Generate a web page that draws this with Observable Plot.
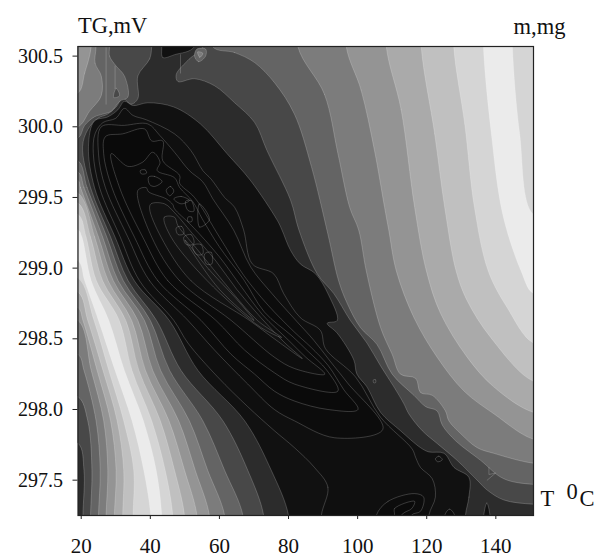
<!DOCTYPE html>
<html><head><meta charset="utf-8">
<script src="https://cdn.jsdelivr.net/npm/d3@7"></script>
<script src="https://cdn.jsdelivr.net/npm/@observablehq/plot@0.6"></script>
<style>html,body{margin:0;padding:0;background:#fff}svg{display:block}svg text{font-family:"Liberation Serif",serif !important;font-variant:normal !important}</style>
</head><body><div id="chart"></div>
<script>
const xTicks=[20,40,60,80,100,120,140];
const yTicks=[297.5,298,298.5,299,299.5,300,300.5];
// Readings along contour lines: [T, TG]
const b1=[[131.2,297.25],[132.2,297.38],[132.2,297.52],[127.9,297.59],[125,297.69],[120.6,297.7],[118.2,297.73],[112.4,297.85],[106.63,297.98],[102.7,298.16],[99.8,298.25],[98.9,298.35],[94.1,298.54],[91.2,298.61],[94.1,298.63],[91.6,298.81],[87.8,298.96],[83.4,299.03],[80.5,299.13],[78.1,299.27],[76.7,299.34],[69,299.62],[62.2,299.81],[54.5,300.02],[46.8,300.14],[39.3,300.17],[35,300.15],[32.5,300.18],[30.6,300.12],[27.7,300.07],[23.8,300.04],[22.1,299.86],[23.85,299.57],[29.8,299.22],[35.4,298.91],[45.5,298.63],[53.8,298.276],[67.3,297.92],[75,297.57],[80,297.25]];
const b1t=[[43.3,300.568],[43.6,300.49],[47,300.51],[52.8,300.568]];
const b1n=[[136.5,297.25],[137.4,297.34],[138.3,297.25]];
const b2a=[[40.4,300.568],[39.8,300.48],[36.4,300.36],[36.4,300.2],[34.5,300.16],[32,300.2],[30.1,300.14],[27.7,300.09],[24.8,300.06],[21.9,299.98],[20.4,299.86],[22.7,299.57],[28.5,299.22],[33.6,298.91],[41.8,298.63],[48.9,298.276],[61,297.92],[68.2,297.57],[72.8,297.25]];
const b2b=[[55.2,300.568],[51.3,300.48],[47.5,300.37],[48,300.32],[52.8,300.34],[58.6,300.29],[64.4,300.17],[70.2,300.03],[73.8,299.83],[80.6,299.48],[83,299.27],[88.3,298.96],[93.1,298.82],[97.9,298.63],[102.7,298.47],[106.6,298.31],[110.5,298.16],[113.4,298.04],[114.8,297.97],[118.7,297.85],[123,297.76],[128.8,297.64],[134.6,297.5],[137.5,297.43],[142.3,297.36],[150.9,297.33]];
const b2c=[[19.07,297.76],[20.8,297.57],[20.5,297.25]];
const b3a=[[28.2,300.568],[28.2,300.5],[30.1,300.43],[32.5,300.36],[33.5,300.21],[31.1,300.18],[28.7,300.11],[26.3,300.09],[23.8,300.07],[21,300.01],[19.07,299.92]];
const b3b=[[19.07,299.76],[21.7,299.57],[27.4,299.22],[32.2,298.91],[40,298.63],[45.6,298.276],[55.2,297.92],[61.5,297.57],[66.8,297.25]];
const b3c=[[19.07,298.09],[21.9,297.92],[23.1,297.57],[22.7,297.25]];
const b3d=[[58,300.568],[64.4,300.525],[70.2,300.454],[76,300.31],[81.7,300.09],[86.6,299.72],[91.4,299.24],[94.5,298.91],[97,298.75],[100.8,298.58],[105.6,298.46],[110,298.25],[116.3,298.1],[119.7,298.02],[123,297.99],[124.5,297.89],[128.3,297.78],[135.6,297.64],[142.3,297.51],[150.9,297.47]];
const b3e=[[52.8,300.5],[54,300.46],[56,300.5],[56,300.55],[53.5,300.55]];
const b4a=[[24.3,300.568],[24,300.45],[25.8,300.36],[25.8,300.22],[22.4,300.11],[19.07,300]];
const b4b=[[19.07,299.68],[20.8,299.57],[26.2,299.22],[30.7,298.91],[38.3,298.63],[43,298.276],[51.3,297.92],[56.6,297.57],[61.5,297.25]];
const b4c=[[19.07,298.39],[20.8,298.276],[24.3,297.92],[25.5,297.57],[25,297.25]];
const b4d=[[82.7,300.568],[90.4,300.23],[94.3,299.81],[97.7,299.43],[100.3,299.27],[102.5,298.98],[106.63,298.58],[110,298.39],[112.4,298.25],[116.8,298.22],[118.2,298.12],[121.6,298.1],[125.4,297.99],[126.4,297.92],[129.8,297.83],[134.6,297.73],[139.4,297.69],[150.9,297.62]];
const b4e=[[53.7,300.53],[54.3,300.49],[55.2,300.52]];
const b5a=[[22.9,300.568],[21,300.38],[19.07,300.24]];
const b5b=[[19.07,299.62],[19.8,299.57],[25,299.22],[29.3,298.91],[36.4,298.63],[40.7,298.276],[48.2,297.92],[53,297.57],[57.1,297.25]];
const b5c=[[19.07,298.63],[22.9,298.276],[26.5,297.92],[27.7,297.57],[27.2,297.25]];
const b5d=[[96.7,300.568],[101,300.26],[104.9,299.83],[107.8,299.43],[109,299.27],[111.2,298.98],[116.3,298.65],[123,298.37],[130.8,298.13],[139.4,297.97],[150.9,297.79]];
const b6b=[[19.07,299.53],[23.9,299.22],[27.8,298.91],[34.6,298.63],[38.6,298.276],[45.4,297.92],[49.9,297.57],[53.5,297.25]];
const b6c=[[19.07,298.72],[20.5,298.63],[24.6,298.276],[28.5,297.92],[30.1,297.57],[29.6,297.25]];
const b6d=[[108.3,300.568],[112.6,300.12],[116.5,299.43],[119.9,298.98],[124,298.68],[131.7,298.37],[139.4,298.16],[150.9,297.98]];
const b7b=[[19.07,299.46],[22.7,299.22],[26.2,298.91],[32.9,298.63],[36.7,298.276],[42.9,297.92],[47,297.57],[49.9,297.25]];
const b7c=[[19.07,298.83],[21.9,298.63],[26.3,298.276],[30.4,297.92],[32.3,297.57],[32,297.25]];
const b7d=[[118.4,300.568],[122.3,299.95],[125.2,299.43],[128.5,298.98],[131.7,298.77],[138.5,298.51],[150.9,298.2]];
const b8b=[[19.07,299.38],[21.4,299.22],[24.4,298.91],[31,298.63],[34.7,298.276],[40.4,297.92],[44.3,297.57],[46.5,297.25]];
const b8c=[[19.07,298.93],[23.7,298.63],[28,298.276],[32.3,297.92],[35.2,297.57],[35,297.25]];
const b8d=[[127.8,300.568],[131,300.02],[133.8,299.43],[137.8,298.98],[143.3,298.72],[150.9,298.47]];
const b9b=[[19.07,299.27],[20.2,299.22],[22.9,298.91],[28,298.63],[32.5,298.276],[38,297.92],[41.7,297.57],[43.3,297.25]];
const b9c=[[19.07,299.05],[21,298.91],[25,298.63],[29.8,298.276],[34.7,297.92],[38.1,297.57],[40.1,297.25]];
const b9d=[[136.4,300.568],[138.7,299.95],[142,299.38],[147.3,298.98],[150.9,298.82]];
const b9e=[[144.8,300.568],[146.9,299.95],[150.9,299.38]];
const lv0=[[89.5,297.25],[91.4,297.45],[87.5,297.59],[81.7,297.73],[75.9,297.85],[68.2,298.02],[59.5,298.23],[50.9,298.47],[46.8,298.63],[36.9,298.91],[31.3,299.22],[25.3,299.57],[23.5,299.81],[24,299.95],[26.3,300.03],[30,300.06],[32.5,300.13],[35,300.08],[38.8,300.05],[47,299.95],[51.8,299.83],[55.2,299.69],[57.6,299.63],[61.5,299.5],[64.4,299.43],[67,299.27],[69.5,299.03],[75.7,298.96],[78.6,298.82],[83.4,298.65],[89.2,298.56],[90.7,298.43],[99.4,298.23],[106.63,297.945],[115.8,297.72],[116.8,297.66],[118.2,297.59],[121.6,297.51],[122.5,297.38],[120.6,297.25]];
const lv1=[[50.9,298.63],[39.8,298.91],[33.5,299.22],[27,299.57],[25,299.81],[25.8,300],[32.5,300.01],[39.3,300.02],[42.7,299.94],[47,299.82],[51.3,299.69],[55.2,299.61],[58.1,299.49],[64.1,299.27],[69,299.01],[75.2,298.82],[82.5,298.62],[87.3,298.49],[92.1,298.34],[97,298.19],[107.3,297.86],[93.3,297.8],[81.7,297.92],[75.9,298],[68.2,298.18],[58.6,298.42]];
const lv1b=[[105.4,297.25],[108.8,297.35],[116.5,297.405],[119.1,297.38],[118.2,297.28],[115.5,297.25]];
const lv1c=[[110.7,297.255],[110.7,297.3],[116.5,297.35],[115.7,297.3],[112.6,297.25]];
const lv1d=[[125.2,297.25],[126.6,297.295],[128.1,297.25]];
const lv2=[[54.7,298.63],[42.2,298.91],[35.4,299.22],[28.9,299.57],[26.5,299.81],[27,299.93],[32,299.95],[38.3,299.985],[40.4,299.9],[43.6,299.9],[43.6,299.76],[48.5,299.655],[48.5,299.6],[52.8,299.5],[60,299.22],[67,298.95],[74,298.74],[81.6,298.55],[86.5,298.44],[91.5,298.31],[96,298.14],[100.1,298],[91.4,298],[81.7,298.06],[75.9,298.13],[70.2,298.25],[63.4,298.39]];
const lv3=[[59,298.63],[45.1,298.91],[37.8,299.22],[31.1,299.57],[28.7,299.81],[33.5,299.72],[37.8,299.75],[40.7,299.82],[42.8,299.75],[42,299.69],[47,299.64],[48.5,299.57],[52.3,299.47],[55,299.35],[60,299.15],[67,298.92],[73,298.69],[81,298.52],[85.7,298.41],[91,298.28],[94.3,298.13],[81.7,298.18],[75.9,298.26],[67.3,298.42]];
const lv4=[[63.4,298.63],[48.5,298.91],[40.4,299.22],[36.4,299.55],[38.8,299.57],[39.5,299.54],[44.6,299.49],[46.5,299.45],[47,299.42],[52,299.3],[60,299.08],[66,298.88],[72.5,298.67],[80,298.49],[85,298.37],[90.5,298.25],[81.7,298.29],[75.9,298.37]];
const lv5=[[68.7,298.63],[51.8,298.91],[43.1,299.22],[39.8,299.42],[40.2,299.455],[44.1,299.455],[47.5,299.38],[52,299.25],[59,299.05],[65,298.85],[72,298.65],[79,298.47],[84,298.36],[75.9,298.5]];
const lv6=[[46,299.22],[44,299.36],[47,299.36],[48,299.3],[52,299.18],[58,299],[64,298.82],[71,298.63],[78,298.51],[72,298.58],[56.5,298.91]];
const lv7=[[50,299.2],[57,298.99],[65,298.78],[70,298.63],[60,298.85],[52,299.12]];
const pocket=[[29.4,300.207],[30.1,300.273],[31.1,300.22]];
const spots=[
 [[37.1,299.69],[38.5,299.696],[38.9,299.672],[37.4,299.667]],
 [[39.5,299.644],[41.2,299.649],[43.4,299.613],[41.2,299.578],[39.8,299.592]],
 [[44.6,299.55],[45.8,299.578],[46.8,299.545],[45.6,299.512]],
 [[46.8,299.49],[48.9,299.507],[51.3,299.479],[48.9,299.455]],
 [[50.2,299.472],[51.8,299.479],[52.6,299.403],[50.9,299.408]],
 [[50.9,299.361],[52,299.361],[52,299.33],[50.9,299.33]],
 [[47.5,299.285],[49.1,299.295],[49.7,299.243],[48,299.238]],
 [[49.7,299.22],[51.8,299.238],[52.6,299.172],[50.4,299.167]],
 [[52.3,299.16],[54.7,299.167],[55.2,299.1],[53.3,299.097]],
 [[55.7,299.1],[57.6,299.113],[57.8,299.03],[56.2,299.03]],
 [[54.2,299.455],[54.2,299.29],[57.1,299.344]],
 [[122.5,297.65],[123.5,297.67],[124.5,297.645],[123.2,297.63]],
 [[104.6,298.21],[105.2,298.21],[105.2,298.19],[104.6,298.19]]
];
const seams=[
 [[27.2,300.56],[27.2,300.16]],
 [[29.8,300.43],[29.8,300.27]],
 [[48.74,300.51],[48.74,300.38]],
 [[138,297.59],[138,297.54],[139.9,297.55],[137.5,297.5]]
];
const far={xl:10,xr:160,yb:297,yt:301};
// region helpers: every band is closed just outside the frame, the clip trims it
const rev=c=>[...c].reverse();
const rightOf=c=>[...c,[far.xr,c[c.length-1][1]],[far.xr,far.yt],[c[0][0],far.yt]];
const cornerTL=c=>[...c,[far.xl,c[c.length-1][1]],[far.xl,far.yt],[c[0][0],far.yt]];
const wedge=(b,c)=>[...b,[b[b.length-1][0],far.yb],[c[c.length-1][0],far.yb],...rev(c),[far.xl,c[0][1]],[far.xl,b[0][1]]];
const G=["#111111","#2c2c2c","#484848","#646464","#7c7c7c","#949494","#aaaaaa","#c0c0c0","#d5d5d5","#ebebeb"];
const deep=["#0f0f0f","#0c0c0c","#0a0a0a","#0b0b0b","#0e0e0e","#121212","#161616","#171717"];
const bands=[
 [G[2],[...b2a,[72.8,far.yb],[20.5,far.yb],...rev(b2c),[far.xl,297.76],[far.xl,far.yt],[40.4,far.yt]]],
 [G[2],rightOf(b2b)],
 [G[3],cornerTL(b3a)],[G[3],wedge(b3b,b3c)],[G[3],rightOf(b3d)],[G[3],b3e],[G[4],b4e],
 [G[2],pocket],
 [G[4],cornerTL(b4a)],[G[4],wedge(b4b,b4c)],[G[4],rightOf(b4d)],
 [G[5],cornerTL(b5a)],[G[5],wedge(b5b,b5c)],[G[5],rightOf(b5d)],
 [G[6],wedge(b6b,b6c)],[G[6],rightOf(b6d)],
 [G[7],wedge(b7b,b7c)],[G[7],rightOf(b7d)],
 [G[8],wedge(b8b,b8c)],[G[8],rightOf(b8d)],
 [G[9],wedge(b9b,b9c)],[G[9],[...b9d,[far.xr,298.82],[far.xr,299.38],...rev(b9e),[144.8,far.yt],[136.4,far.yt]]],
 [G[0],[...b1,[80,far.yb],[131.2,far.yb]]],
 [G[0],[...b1t,[52.8,far.yt],[43.3,far.yt]]],
 [G[0],[...b1n,[138.3,far.yb],[136.5,far.yb]]],
 [deep[0],[...lv0,[120.6,far.yb],[89.5,far.yb]]],
 [deep[1],lv1],[deep[1],[...lv1b,[115.5,far.yb],[105.4,far.yb]]],
 [deep[2],[...lv1c,[112.6,far.yb],[110.7,far.yb]]],[deep[1],[...lv1d,[128.1,far.yb],[125.2,far.yb]]],
 [deep[2],lv2],[deep[3],lv3],[deep[4],lv4],[deep[5],lv5],[deep[6],lv6],[deep[7],lv7]
];
const edge={stroke:"#fff",strokeOpacity:0.32,strokeWidth:0.6,clip:true};
const plot=Plot.plot({
 width:594,height:557,marginLeft:77.5,marginRight:61,marginTop:46,marginBottom:42,
 style:{fontFamily:"Liberation Serif",background:"#fff",color:"#111"},
 x:{domain:[19.07,150.9]},
 y:{domain:[297.25,300.568]},
 marks:[
  Plot.frame({fill:G[1],stroke:"none"}),
  ...bands.map(([fill,poly])=>Plot.line(poly,{x:d=>d[0],y:d=>d[1],fill,curve:"catmull-rom-closed",...edge})),
  ...spots.map(poly=>Plot.line(poly,{x:d=>d[0],y:d=>d[1],fill:"none",curve:"catmull-rom-closed",...edge})),
  ...seams.map(poly=>Plot.line(poly,{x:d=>d[0],y:d=>d[1],curve:"linear",...edge})),
  Plot.frame({stroke:"#222",strokeWidth:1.2}),
  Plot.axisX({ticks:xTicks,tickSize:4,tickPadding:19,fontSize:21,label:null,tickFormat:d=>String(d),stroke:"#222"}),
  Plot.axisY({ticks:yTicks,tickSize:5,tickPadding:10,fontSize:20,label:null,tickFormat:d=>d.toFixed(1),stroke:"#222"}),
  Plot.text(["TG,mV"],{frameAnchor:"top-left",textAnchor:"start",dy:-29,dx:0,fontSize:22.5,fill:"#111"}),
  Plot.text(["m,mg"],{frameAnchor:"top-right",textAnchor:"end",dy:-28,dx:32,fontSize:22.5,fill:"#111"}),
  Plot.text(["T"],{frameAnchor:"bottom-right",textAnchor:"start",dx:7,dy:-10,fontSize:22.5,fill:"#111"}),
  Plot.text(["0"],{frameAnchor:"bottom-right",textAnchor:"start",dx:33,dy:-17,fontSize:22.5,fill:"#111"}),
  Plot.text(["C"],{frameAnchor:"bottom-right",textAnchor:"start",dx:46,dy:-10,fontSize:22.5,fill:"#111"})
 ]
});
document.getElementById("chart").appendChild(plot);
</script></body></html>
